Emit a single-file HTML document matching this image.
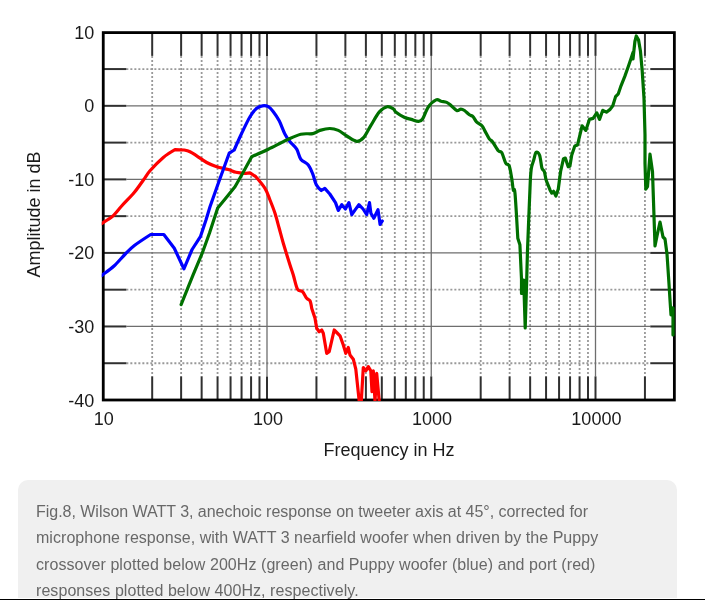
<!DOCTYPE html>
<html><head><meta charset="utf-8"><style>
html,body{margin:0;padding:0;width:705px;height:600px;overflow:hidden;background:#fff;position:relative}
.box{position:absolute;left:18px;top:480px;width:659px;height:117.6px;background:#f0f0f0;border-radius:10px 10px 0 0}
.cap{will-change:transform;position:absolute;left:35.7px;top:0;font-family:"Liberation Sans",sans-serif;font-size:16px;color:#686868;white-space:nowrap}
.ln{position:absolute;left:0;white-space:nowrap}
.bar{position:absolute;left:0;top:598.5px;width:705px;height:1.5px;background:#000}
</style></head><body>
<svg width="705" height="600" viewBox="0 0 705 600" style="position:absolute;left:0;top:0;will-change:transform">
<defs><clipPath id="c"><rect x="101.75" y="31.30" width="574.12" height="369.70"/></clipPath></defs>
<g stroke="#999999" stroke-width="1.8" stroke-dasharray="2 2" fill="none"><line x1="152.19" y1="55.90" x2="152.19" y2="376.40"/><line x1="181.12" y1="55.90" x2="181.12" y2="376.40"/><line x1="201.64" y1="55.90" x2="201.64" y2="376.40"/><line x1="217.56" y1="55.90" x2="217.56" y2="376.40"/><line x1="230.56" y1="55.90" x2="230.56" y2="376.40"/><line x1="241.56" y1="55.90" x2="241.56" y2="376.40"/><line x1="251.08" y1="55.90" x2="251.08" y2="376.40"/><line x1="259.48" y1="55.90" x2="259.48" y2="376.40"/><line x1="316.44" y1="55.90" x2="316.44" y2="376.40"/><line x1="345.37" y1="55.90" x2="345.37" y2="376.40"/><line x1="365.89" y1="55.90" x2="365.89" y2="376.40"/><line x1="381.81" y1="55.90" x2="381.81" y2="376.40"/><line x1="394.81" y1="55.90" x2="394.81" y2="376.40"/><line x1="405.81" y1="55.90" x2="405.81" y2="376.40"/><line x1="415.33" y1="55.90" x2="415.33" y2="376.40"/><line x1="423.73" y1="55.90" x2="423.73" y2="376.40"/><line x1="480.69" y1="55.90" x2="480.69" y2="376.40"/><line x1="509.62" y1="55.90" x2="509.62" y2="376.40"/><line x1="530.14" y1="55.90" x2="530.14" y2="376.40"/><line x1="546.06" y1="55.90" x2="546.06" y2="376.40"/><line x1="559.06" y1="55.90" x2="559.06" y2="376.40"/><line x1="570.06" y1="55.90" x2="570.06" y2="376.40"/><line x1="579.58" y1="55.90" x2="579.58" y2="376.40"/><line x1="587.98" y1="55.90" x2="587.98" y2="376.40"/><line x1="644.94" y1="55.90" x2="644.94" y2="376.40"/><line x1="126.35" y1="69.07" x2="650.27" y2="69.07"/><line x1="126.35" y1="142.61" x2="650.27" y2="142.61"/><line x1="126.35" y1="216.15" x2="650.27" y2="216.15"/><line x1="126.35" y1="289.69" x2="650.27" y2="289.69"/><line x1="126.35" y1="363.23" x2="650.27" y2="363.23"/></g>
<g stroke="#6e6e6e" stroke-width="1.3" fill="none"><line x1="267.00" y1="55.90" x2="267.00" y2="376.40"/><line x1="431.25" y1="55.90" x2="431.25" y2="376.40"/><line x1="595.50" y1="55.90" x2="595.50" y2="376.40"/><line x1="126.35" y1="105.84" x2="650.27" y2="105.84"/><line x1="126.35" y1="179.38" x2="650.27" y2="179.38"/><line x1="126.35" y1="252.92" x2="650.27" y2="252.92"/><line x1="126.35" y1="326.46" x2="650.27" y2="326.46"/></g>
<g stroke="#303030" stroke-width="2" fill="none"><line x1="152.19" y1="32.30" x2="152.19" y2="55.90"/><line x1="152.19" y1="376.40" x2="152.19" y2="400.00"/><line x1="181.12" y1="32.30" x2="181.12" y2="55.90"/><line x1="181.12" y1="376.40" x2="181.12" y2="400.00"/><line x1="201.64" y1="32.30" x2="201.64" y2="55.90"/><line x1="201.64" y1="376.40" x2="201.64" y2="400.00"/><line x1="217.56" y1="32.30" x2="217.56" y2="55.90"/><line x1="217.56" y1="376.40" x2="217.56" y2="400.00"/><line x1="230.56" y1="32.30" x2="230.56" y2="55.90"/><line x1="230.56" y1="376.40" x2="230.56" y2="400.00"/><line x1="241.56" y1="32.30" x2="241.56" y2="55.90"/><line x1="241.56" y1="376.40" x2="241.56" y2="400.00"/><line x1="251.08" y1="32.30" x2="251.08" y2="55.90"/><line x1="251.08" y1="376.40" x2="251.08" y2="400.00"/><line x1="259.48" y1="32.30" x2="259.48" y2="55.90"/><line x1="259.48" y1="376.40" x2="259.48" y2="400.00"/><line x1="267.00" y1="32.30" x2="267.00" y2="55.90"/><line x1="267.00" y1="376.40" x2="267.00" y2="400.00"/><line x1="316.44" y1="32.30" x2="316.44" y2="55.90"/><line x1="316.44" y1="376.40" x2="316.44" y2="400.00"/><line x1="345.37" y1="32.30" x2="345.37" y2="55.90"/><line x1="345.37" y1="376.40" x2="345.37" y2="400.00"/><line x1="365.89" y1="32.30" x2="365.89" y2="55.90"/><line x1="365.89" y1="376.40" x2="365.89" y2="400.00"/><line x1="381.81" y1="32.30" x2="381.81" y2="55.90"/><line x1="381.81" y1="376.40" x2="381.81" y2="400.00"/><line x1="394.81" y1="32.30" x2="394.81" y2="55.90"/><line x1="394.81" y1="376.40" x2="394.81" y2="400.00"/><line x1="405.81" y1="32.30" x2="405.81" y2="55.90"/><line x1="405.81" y1="376.40" x2="405.81" y2="400.00"/><line x1="415.33" y1="32.30" x2="415.33" y2="55.90"/><line x1="415.33" y1="376.40" x2="415.33" y2="400.00"/><line x1="423.73" y1="32.30" x2="423.73" y2="55.90"/><line x1="423.73" y1="376.40" x2="423.73" y2="400.00"/><line x1="431.25" y1="32.30" x2="431.25" y2="55.90"/><line x1="431.25" y1="376.40" x2="431.25" y2="400.00"/><line x1="480.69" y1="32.30" x2="480.69" y2="55.90"/><line x1="480.69" y1="376.40" x2="480.69" y2="400.00"/><line x1="509.62" y1="32.30" x2="509.62" y2="55.90"/><line x1="509.62" y1="376.40" x2="509.62" y2="400.00"/><line x1="530.14" y1="32.30" x2="530.14" y2="55.90"/><line x1="530.14" y1="376.40" x2="530.14" y2="400.00"/><line x1="546.06" y1="32.30" x2="546.06" y2="55.90"/><line x1="546.06" y1="376.40" x2="546.06" y2="400.00"/><line x1="559.06" y1="32.30" x2="559.06" y2="55.90"/><line x1="559.06" y1="376.40" x2="559.06" y2="400.00"/><line x1="570.06" y1="32.30" x2="570.06" y2="55.90"/><line x1="570.06" y1="376.40" x2="570.06" y2="400.00"/><line x1="579.58" y1="32.30" x2="579.58" y2="55.90"/><line x1="579.58" y1="376.40" x2="579.58" y2="400.00"/><line x1="587.98" y1="32.30" x2="587.98" y2="55.90"/><line x1="587.98" y1="376.40" x2="587.98" y2="400.00"/><line x1="595.50" y1="32.30" x2="595.50" y2="55.90"/><line x1="595.50" y1="376.40" x2="595.50" y2="400.00"/><line x1="644.94" y1="32.30" x2="644.94" y2="55.90"/><line x1="644.94" y1="376.40" x2="644.94" y2="400.00"/><line x1="102.75" y1="69.07" x2="126.35" y2="69.07"/><line x1="650.27" y1="69.07" x2="673.87" y2="69.07"/><line x1="102.75" y1="105.84" x2="126.35" y2="105.84"/><line x1="650.27" y1="105.84" x2="673.87" y2="105.84"/><line x1="102.75" y1="142.61" x2="126.35" y2="142.61"/><line x1="650.27" y1="142.61" x2="673.87" y2="142.61"/><line x1="102.75" y1="179.38" x2="126.35" y2="179.38"/><line x1="650.27" y1="179.38" x2="673.87" y2="179.38"/><line x1="102.75" y1="216.15" x2="126.35" y2="216.15"/><line x1="650.27" y1="216.15" x2="673.87" y2="216.15"/><line x1="102.75" y1="252.92" x2="126.35" y2="252.92"/><line x1="650.27" y1="252.92" x2="673.87" y2="252.92"/><line x1="102.75" y1="289.69" x2="126.35" y2="289.69"/><line x1="650.27" y1="289.69" x2="673.87" y2="289.69"/><line x1="102.75" y1="326.46" x2="126.35" y2="326.46"/><line x1="650.27" y1="326.46" x2="673.87" y2="326.46"/><line x1="102.75" y1="363.23" x2="126.35" y2="363.23"/><line x1="650.27" y1="363.23" x2="673.87" y2="363.23"/></g>
<rect x="103.25" y="32.60" width="571.12" height="367.40" fill="none" stroke="#000" stroke-width="2.8"/>
<g fill="none" stroke-width="3.2" stroke-linejoin="round" stroke-linecap="round" clip-path="url(#c)">
<path stroke="#ff0000" d="M101.50,223.80 C101.68,223.67 101.52,223.72 102.60,223.00 C103.68,222.28 106.17,220.78 108.00,219.50 C109.83,218.22 111.25,217.63 113.60,215.30 C115.95,212.97 118.70,209.25 122.10,205.50 C125.50,201.75 130.45,197.05 134.00,192.80 C137.55,188.55 140.73,183.67 143.40,180.00 C146.07,176.33 146.68,174.55 150.00,170.80 C153.32,167.05 159.13,161.02 163.30,157.50 C167.47,153.98 175.00,149.70 175.00,149.70 L184.20,150.00 C184.20,150.00 187.92,150.73 190.00,151.70 C192.08,152.67 193.92,154.00 196.70,155.80 C199.48,157.60 203.37,160.68 206.70,162.50 C210.03,164.32 213.10,165.53 216.70,166.70 C220.30,167.87 225.08,168.57 228.30,169.50 C231.52,170.43 233.22,171.67 236.00,172.30 C238.78,172.93 242.67,173.20 245.00,173.30 C247.33,173.40 250.00,172.90 250.00,172.90 L255.80,176.70 C255.80,176.70 262.63,184.42 265.00,188.30 C267.37,192.18 268.33,195.83 270.00,200.00 C271.67,204.17 273.47,208.58 275.00,213.30 C276.53,218.02 277.82,223.30 279.20,228.30 C280.58,233.30 281.50,237.18 283.30,243.30 C285.10,249.42 288.33,259.72 290.00,265.00 C291.67,270.28 292.05,270.97 293.30,275.00 C294.55,279.03 295.97,286.42 297.50,289.20 C299.03,291.98 300.97,290.18 302.50,291.70 C304.03,293.22 305.45,296.78 306.70,298.30 C307.95,299.82 309.17,299.13 310.00,300.80 C310.83,302.47 311.70,308.30 311.70,308.30 L315.00,318.30 L316.70,328.30 L319.20,331.70 L321.70,330.00 L323.30,333.30 L326.70,353.30 L329.20,351.70 L334.20,330.00 L336.70,332.50 L340.00,335.80 L343.30,345.00 L345.80,353.30 L348.30,347.50 L350.00,355.00 L353.30,359.20 L355.80,369.20 L359.20,401.00 L361.30,401.00 L363.30,367.50 L365.80,370.80 L368.30,366.70 L370.80,370.80 L372.00,391.70 L373.30,370.80 L375.00,401.00 L376.70,373.30 L379.20,401.00"/>
<path stroke="#0000ff" d="M101.50,275.60 C101.70,275.45 100.62,276.30 102.70,274.70 C104.78,273.10 110.23,269.45 114.00,266.00 C117.77,262.55 121.85,257.45 125.30,254.00 C128.75,250.55 130.47,248.55 134.70,245.30 C138.93,242.05 150.70,234.50 150.70,234.50 L163.80,234.50 L174.30,248.30 L183.90,268.80 L192.10,249.50 L200.40,236.70 L205.90,220.20 L210.00,206.70 L218.30,183.30 L229.20,153.20 L234.20,150.00 C234.20,150.00 239.07,138.85 241.70,133.30 C244.33,127.75 247.50,120.87 250.00,116.70 C252.50,112.53 254.62,110.12 256.70,108.30 C258.78,106.48 260.57,106.07 262.50,105.80 C264.43,105.53 266.50,105.72 268.30,106.70 C270.10,107.68 271.48,109.35 273.30,111.70 C275.12,114.05 277.25,117.05 279.20,120.80 C281.15,124.55 283.20,130.72 285.00,134.20 C286.80,137.68 288.05,139.20 290.00,141.70 C291.95,144.20 294.90,146.28 296.70,149.20 C298.50,152.12 298.87,156.57 300.80,159.20 C302.73,161.83 306.30,162.50 308.30,165.00 C310.30,167.50 311.47,170.90 312.80,174.20 C314.13,177.50 314.88,182.08 316.30,184.80 C317.72,187.52 321.30,190.50 321.30,190.50 L324.80,188.40 L329.80,194.00 L335.50,202.60 L338.30,210.40 L341.80,204.70 L345.40,209.00 L348.90,202.60 L351.80,214.60 L355.30,209.60 L358.90,204.70 L363.10,209.00 L366.70,214.60 L369.50,202.60 L370.90,213.20 L373.80,218.20 L378.00,209.60 L380.10,224.50 L382.30,221.00"/>
<path stroke="#007000" d="M181.10,304.60 L193.00,275.20 L202.20,253.20 L209.50,233.00 L217.70,208.00 L225.10,199.00 L235.00,186.70 L241.70,175.00 L251.70,156.70 C251.70,156.70 262.47,151.98 268.30,149.20 C274.13,146.42 281.28,142.50 286.70,140.00 C292.12,137.50 296.45,135.27 300.80,134.20 C305.15,133.13 309.62,134.23 312.80,133.60 C315.98,132.97 317.07,131.25 319.90,130.40 C322.73,129.55 326.73,128.50 329.80,128.50 C332.87,128.50 335.47,129.15 338.30,130.40 C341.13,131.65 343.73,134.18 346.80,136.00 C349.87,137.82 353.87,141.07 356.70,141.30 C359.53,141.53 361.43,140.05 363.80,137.40 C366.17,134.75 368.30,129.65 370.90,125.40 C373.50,121.15 376.68,115.02 379.40,111.90 C382.12,108.78 384.83,107.17 387.20,106.70 C389.57,106.23 392.18,108.23 393.60,109.10 C395.02,109.97 393.93,110.55 395.70,111.90 C397.47,113.25 401.60,115.95 404.20,117.20 C406.80,118.45 408.93,118.70 411.30,119.40 C413.67,120.10 416.52,121.47 418.40,121.40 C420.28,121.33 420.95,121.40 422.60,119.00 C424.25,116.60 426.05,110.18 428.30,107.00 C430.55,103.82 433.97,100.85 436.10,99.90 C438.23,98.95 439.33,100.88 441.10,101.30 C442.87,101.72 445.05,101.70 446.70,102.40 C448.35,103.10 449.33,104.15 451.00,105.50 C452.67,106.85 455.05,109.90 456.70,110.50 C458.35,111.10 459.60,109.10 460.90,109.10 C462.20,109.10 463.08,109.55 464.50,110.50 C465.92,111.45 467.98,113.78 469.40,114.80 C470.82,115.82 471.82,115.43 473.00,116.60 C474.18,117.77 474.97,120.22 476.50,121.80 C478.03,123.38 480.78,124.55 482.20,126.10 C483.62,127.65 483.82,128.97 485.00,131.10 C486.18,133.23 488.05,137.13 489.30,138.90 C490.55,140.67 491.00,139.72 492.50,141.70 C494.00,143.68 496.77,149.00 498.30,150.80 C499.83,152.60 500.45,150.42 501.70,152.50 C502.95,154.58 504.55,161.08 505.80,163.30 C507.05,165.52 508.22,163.30 509.20,165.80 C510.18,168.30 511.02,174.27 511.70,178.30 C512.38,182.33 512.75,187.50 513.30,190.00 C513.85,192.50 514.25,185.27 515.00,193.30 C515.75,201.33 517.80,238.20 517.80,238.20 L519.90,244.70 L521.50,279.20 L521.50,293.50 L523.70,280.00 L525.20,328.00 L526.70,280.00 L527.50,250.00 C527.50,250.00 528.63,221.53 529.10,210.00 C529.57,198.47 529.92,187.80 530.30,180.80 C530.68,173.80 530.82,171.50 531.40,168.00 C531.98,164.50 533.02,162.42 533.80,159.80 C534.58,157.18 535.13,153.07 536.10,152.30 C537.07,151.53 538.63,152.58 539.60,155.20 C540.57,157.82 541.12,165.28 541.90,168.00 C542.68,170.72 543.62,169.55 544.30,171.50 C544.98,173.45 545.42,177.57 546.00,179.70 C546.58,181.83 547.12,182.55 547.80,184.30 C548.48,186.05 550.10,190.20 550.10,190.20 L551.80,193.10 L553.60,191.30 L555.90,196.00 L558.30,189.00 L560.60,171.50 L563.50,158.70 L565.30,158.10 L568.20,166.80 L569.90,166.30 L571.70,155.20 L574.80,146.00 L577.50,145.00 L582.10,125.80 L585.80,130.40 L589.40,119.40 L593.10,118.40 L596.80,112.90 L599.50,119.40 L602.80,110.30 L606.40,112.20 L610.10,109.40 L612.80,105.70 L615.60,96.60 L618.30,93.80 L621.10,85.60 L624.80,76.40 L628.40,66.30 L631.20,58.00 L633.00,52.50 L633.00,59.00 L634.90,41.50 L636.30,36.00 L638.50,39.70 L640.40,50.70 L642.20,70.90 L644.00,98.40 L645.00,135.00 L645.00,163.30 L645.80,189.20 L647.50,186.70 L650.00,154.20 L652.50,171.70 L655.00,246.00 L657.00,236.00 L660.00,222.00 L663.00,237.00 L665.00,239.00 L667.00,254.00 L669.00,284.00 L670.00,300.00 L671.00,315.00 L673.00,308.00 L673.00,335.00"/>
</g>
<g font-family="Liberation Sans, sans-serif" font-size="18" fill="#1a1a1a">
<g text-anchor="end">
<text x="94.3" y="38.8">10</text>
<text x="94.3" y="112.3">0</text>
<text x="94.3" y="185.9">-10</text>
<text x="94.3" y="259.4">-20</text>
<text x="94.3" y="333.0">-30</text>
<text x="94.3" y="406.5">-40</text>
</g>
<g text-anchor="middle">
<text x="103.7" y="425">10</text>
<text x="267.9" y="425">100</text>
<text x="432.1" y="425">1000</text>
<text x="596.4" y="425">10000</text>
<text x="389" y="456.3">Frequency in Hz</text>
<text transform="translate(39.5,214.5) rotate(-90)">Amplitude in dB</text>
</g>
</g>
</svg>
<div class="box"></div>
<div class="cap">
<div class="ln" style="top:502.5px;letter-spacing:-0.025px">Fig.8, Wilson WATT 3, anechoic response on tweeter axis at 45°, corrected for</div>
<div class="ln" style="top:528.8px;letter-spacing:0.042px">microphone response, with WATT 3 nearfield woofer when driven by the Puppy</div>
<div class="ln" style="top:555.5px;letter-spacing:0.059px">crossover plotted below 200Hz (green) and Puppy woofer (blue) and port (red)</div>
<div class="ln" style="top:581.8px;letter-spacing:0.063px">responses plotted below 400Hz, respectively.</div>
</div>
<div class="bar"></div>
</body></html>
